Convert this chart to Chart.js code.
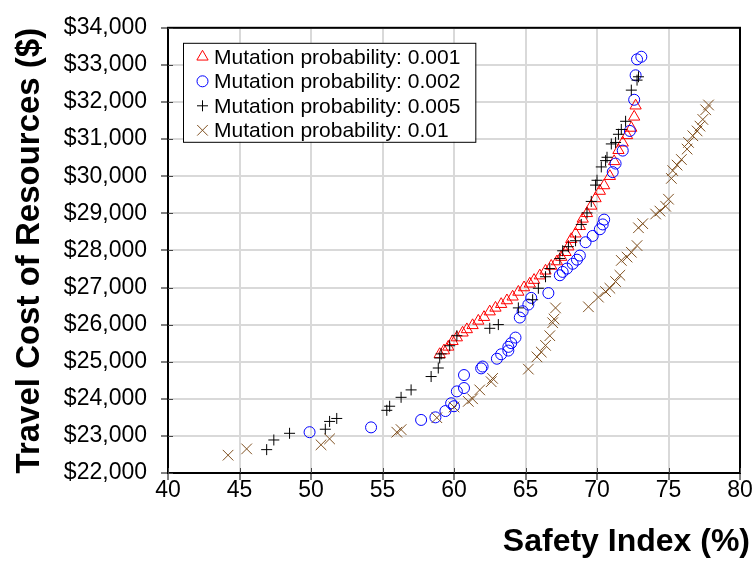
<!DOCTYPE html>
<html>
<head>
<meta charset="utf-8">
<script src="https://cdn.jsdelivr.net/npm/chart.js@4.4.0/dist/chart.umd.min.js"></script>
<style>
  html, body { margin: 0; padding: 0; background: #fff; }
  #wrap { width: 756px; height: 561px; }
</style>
</head>
<body>
<div id="wrap"><canvas id="tradeoffChart" width="756" height="561"></canvas></div>
<script>
var seriesLabels = [
  'Mutation probability: 0.001',
  'Mutation probability: 0.002',
  'Mutation probability: 0.005',
  'Mutation probability: 0.01'
];

// mutation probability 0.001
var safety001 = [59.0, 59.3, 59.6, 59.9, 60.2, 60.6, 60.9, 61.3, 61.7, 62.1, 62.5, 62.9, 63.3, 63.7, 64.1,
  64.5, 64.9, 65.3, 65.6, 66.0, 66.4, 66.8, 67.2, 67.5, 67.8, 68.0, 68.2, 68.5, 68.8, 69.0, 69.3, 69.6,
  69.9, 70.2, 70.5, 70.9, 71.2, 71.5, 71.8, 72.1, 72.4, 72.6, 72.7];
var cost001 = [25200, 25300, 25400, 25550, 25650, 25780, 25870, 25980, 26100, 26200, 26350, 26450, 26550,
  26650, 26750, 26880, 27000, 27100, 27200, 27320, 27450, 27580, 27700, 27820, 27950, 28100, 28300, 28450,
  28650, 28850, 29000, 29200, 29400, 29600, 29750, 30000, 30400, 30700, 30900, 31100, 31300, 31600, 31900];

// mutation probability 0.002
var safety002 = [49.9, 54.2, 57.7, 58.7, 59.4, 59.8, 60.0, 60.2, 60.7, 60.7, 61.9, 62.0, 63.0, 63.3, 63.8,
  63.8, 64.0, 64.3, 64.6, 64.8, 65.2, 65.4, 66.6, 67.4, 67.6, 67.9, 68.3, 68.6, 68.8, 69.2, 69.7, 70.2,
  70.4, 70.5, 71.1, 71.3, 71.8, 72.3, 72.6, 72.7, 72.8, 73.1];
var cost002 = [23100, 23230, 23430, 23500, 23670, 23880, 23800, 24200, 24290, 24640, 24820, 24870, 25080,
  25200, 25300, 25400, 25500, 25650, 26190, 26360, 26540, 26720, 26850, 27330, 27420, 27510, 27640, 27750,
  27860, 28220, 28390, 28570, 28700, 28830, 30110, 30340, 30690, 31220, 32060, 32720, 33150, 33220];

// mutation probability 0.005
var safety005 = [46.9, 47.4, 48.5, 51.0, 51.3, 51.8, 55.3, 55.5, 56.3, 57.0, 58.4, 58.9, 59.0, 59.1, 59.7,
  60.2, 62.5, 63.1, 64.5, 65.5, 65.9, 66.4, 66.7, 67.4, 67.6, 68.0, 68.5, 68.9, 69.3, 69.6, 69.9, 70.0,
  70.3, 70.6, 70.7, 71.0, 71.3, 71.5, 71.7, 72.0, 72.4, 72.8, 72.9];
var cost005 = [22630, 22890, 23070, 23180, 23390, 23470, 23690, 23800, 24040, 24240, 24600, 24830, 25100,
  25210, 25430, 25700, 25900, 26000, 26450, 26670, 26980, 27290, 27510, 27780, 27990, 28100, 28260, 28700,
  29010, 29320, 29760, 29890, 30250, 30420, 30510, 30870, 30910, 31130, 31260, 31480, 32320, 32590, 32680];

// mutation probability 0.01
var safety01 = [44.2, 45.5, 50.7, 51.3, 56.0, 56.3, 58.8, 60.0, 61.0, 61.3, 61.8, 62.6, 62.7, 65.2, 65.8,
  66.1, 66.4, 66.7, 66.9, 67.0, 67.1, 69.4, 70.1, 70.6, 70.9, 71.3, 71.6, 71.7, 72.1, 72.4, 72.8, 72.9,
  73.2, 74.1, 74.4, 74.8, 75.0, 75.2, 75.3, 75.6, 75.9, 76.3, 76.4, 76.7, 77.0, 77.2, 77.4, 77.6, 77.8];
var cost01 = [22480, 22650, 22760, 22920, 23100, 23170, 23490, 23780, 23930, 24000, 24240, 24460, 24550,
  24800, 25130, 25260, 25440, 25700, 26050, 26150, 26450, 26480, 26740, 26890, 26980, 27160, 27330, 27730,
  27820, 27950, 28130, 28610, 28720, 28980, 29060, 29190, 29380, 29940, 30150, 30300, 30450, 30730, 30910,
  31090, 31220, 31350, 31530, 31790, 31920];

var FONT = "'Liberation Sans', Arial, sans-serif";

function toPoints(xs, ys) {
  return xs.map(function(x, i) { return {x: x, y: ys[i]}; });
}

// legend drawn inside the plot, top-left, like the original
var boxLegend = {
  id: 'boxLegend',
  afterDraw: function(chart) {
    var ctx = chart.ctx;
    var area = chart.chartArea;
    var left = area.left + 15, top = area.top + 15;
    var rowH = 24.5;
    ctx.save();
    ctx.font = '21px ' + FONT;
    var textW = 0;
    chart.data.datasets.forEach(function(ds) {
      textW = Math.max(textW, ctx.measureText(ds.label).width);
    });
    var w = 31 + textW + 15, h = rowH * 4 + 1;
    ctx.fillStyle = '#fff';
    ctx.fillRect(left, top, w, h);
    ctx.strokeStyle = '#000';
    ctx.lineWidth = 1;
    ctx.strokeRect(left + 0.5, top + 0.5, w, h);
    chart.data.datasets.forEach(function(ds, i) {
      var cy = top + 14 + i * rowH;
      ctx.strokeStyle = ds.pointBorderColor;
      ctx.fillStyle = 'rgba(0,0,0,0)';
      ctx.lineWidth = 1;
      Chart.helpers.drawPoint(ctx, {pointStyle: ds.pointStyle, radius: ds.pointRadius, rotation: 0, borderWidth: 1}, left + 19.5, cy);
      ctx.fillStyle = '#000';
      ctx.textBaseline = 'middle';
      ctx.textAlign = 'left';
      ctx.fillText(ds.label, left + 31, cy + 1);
    });
    ctx.restore();
  }
};

// frame round the plot and inner half of the tick marks
var plotFrame = {
  id: 'plotFrame',
  beforeDatasetsDraw: function(chart) {
    var ctx = chart.ctx;
    var a = chart.chartArea;
    ctx.save();
    ctx.strokeStyle = '#000';
    ctx.lineWidth = 2;
    ctx.strokeRect(a.left, a.top, a.right - a.left, a.bottom - a.top);
    ctx.lineWidth = 1;
    ctx.strokeStyle = '#444';
    chart.scales.y.ticks.forEach(function(t) {
      var py = Math.round(chart.scales.y.getPixelForValue(t.value)) + 0.5;
      ctx.beginPath(); ctx.moveTo(a.left, py); ctx.lineTo(a.left + 5, py); ctx.stroke();
    });
    chart.scales.x.ticks.forEach(function(t) {
      var px = Math.round(chart.scales.x.getPixelForValue(t.value)) + 0.5;
      ctx.beginPath(); ctx.moveTo(px, a.bottom); ctx.lineTo(px, a.bottom - 5); ctx.stroke();
    });
    ctx.restore();
  }
};

var ctx = document.getElementById('tradeoffChart');
var chart = new Chart(ctx, {
  type: 'scatter',
  data: {
    datasets: [{
      label: seriesLabels[0],
      data: toPoints(safety001, cost001),
      pointStyle: 'triangle',
      pointRadius: 6.5,
      pointBorderColor: '#ff0000',
      pointBackgroundColor: 'rgba(0,0,0,0)',
      pointBorderWidth: 1,
      order: 4
    }, {
      label: seriesLabels[1],
      data: toPoints(safety002, cost002),
      pointStyle: 'circle',
      pointRadius: 5.5,
      pointBorderColor: '#0000ff',
      pointBackgroundColor: 'rgba(0,0,0,0)',
      pointBorderWidth: 1,
      order: 3
    }, {
      label: seriesLabels[2],
      data: toPoints(safety005, cost005),
      pointStyle: 'cross',
      pointRadius: 5.5,
      pointBorderColor: '#000000',
      pointBackgroundColor: 'rgba(0,0,0,0)',
      pointBorderWidth: 1,
      order: 2
    }, {
      label: seriesLabels[3],
      data: toPoints(safety01, cost01),
      pointStyle: 'crossRot',
      pointRadius: 7.5,
      pointBorderColor: '#7f5020',
      pointBackgroundColor: 'rgba(0,0,0,0)',
      pointBorderWidth: 1,
      order: 1
    }]
  },
  options: {
    responsive: false,
    devicePixelRatio: 1,
    animation: false,
    layout: { padding: { top: 20, right: 6, left: 0, bottom: 0 } },
    plugins: {
      legend: { display: false },
      tooltip: { enabled: false },
      title: {
        display: true,
        position: 'bottom',
        align: 'end',
        text: 'Safety Index (%)',
        color: '#000',
        font: { family: FONT, size: 32, weight: 'bold' },
        padding: { top: 0, bottom: 0 }
      }
    },
    scales: {
      x: {
        type: 'linear',
        min: 40,
        max: 80,
        ticks: { stepSize: 5, color: '#000', font: { family: FONT, size: 23 }, padding: -3, maxRotation: 0 },
        grid: { color: '#d9d9d9', lineWidth: 2, tickColor: '#000', tickLength: 7, tickWidth: 1 },
        border: { color: '#000', width: 2 },
        afterFit: function(scale) { scale.height = 49.6; }
      },
      y: {
        type: 'linear',
        min: 22000,
        max: 34000,
        ticks: {
          stepSize: 1000,
          color: '#000',
          font: { family: FONT, size: 23 },
          padding: 14,
          callback: function(v) { return '$' + v.toLocaleString('en-US'); }
        },
        grid: { color: '#d9d9d9', lineWidth: 2, tickColor: '#000', tickLength: 7, tickWidth: 1 },
        border: { color: '#000', width: 2 },
        title: {
          display: true,
          align: 'end',
          text: 'Travel Cost of Resources ($)',
          color: '#000',
          font: { family: FONT, size: 33, weight: 'bold' },
          padding: { top: 10, bottom: 0 }
        },
        afterFit: function(scale) { scale.width = 168; }
      },
      y2: {
        type: 'linear',
        position: 'right',
        display: true,
        ticks: { display: false },
        grid: { display: false, drawTicks: false },
        border: { display: false },
        afterFit: function(scale) { scale.width = 10; }
      }
    }
  },
  plugins: [plotFrame, boxLegend]
});
</script>
</body>
</html>
